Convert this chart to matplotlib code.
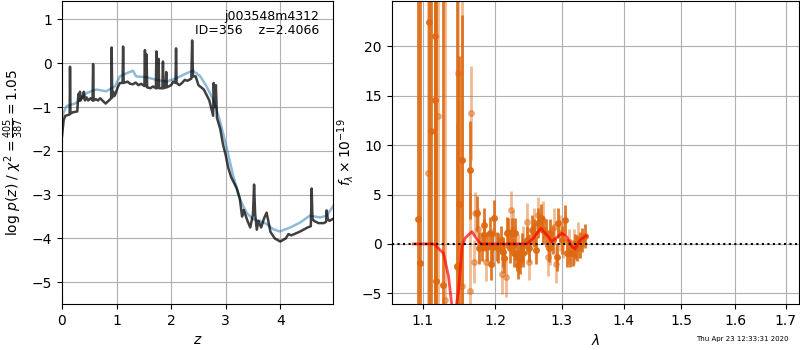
import matplotlib
matplotlib.use("Agg")
import matplotlib.pyplot as plt
from matplotlib.ticker import FixedLocator, FixedFormatter, NullLocator

# ---------------- left panel: p(z) ----------------
z_fit = [0.0, 0.02, 0.08, 0.26, 0.45, 0.63, 0.81, 0.97, 1.06, 1.18, 1.30, 1.36, 1.55,
         1.73, 1.91, 2.10, 2.28, 2.40, 2.53, 2.65, 2.77, 2.89, 3.01, 3.14, 3.26, 3.38,
         3.50, 3.63, 3.75, 3.87, 3.99, 4.18, 4.36, 4.54, 4.73, 4.85, 4.97]
logp_fit = [-1.25, -1.15, -0.98, -0.91, -0.68, -0.60, -0.64, -0.53, -0.30, -0.23, -0.17,
            -0.30, -0.32, -0.38, -0.42, -0.34, -0.23, -0.17, -0.29, -0.53, -0.83, -1.29,
            -1.89, -2.58, -3.10, -3.41, -3.56, -3.60, -3.67, -3.79, -3.84, -3.75, -3.64,
            -3.48, -3.52, -3.48, -3.26]

z_pz = [0.0, 0.03, 0.06, 0.14, 0.147, 0.155, 0.20, 0.28, 0.30, 0.32, 0.33, 0.34, 0.36,
        0.38, 0.40, 0.42, 0.45, 0.48, 0.52, 0.56, 0.57, 0.58, 0.62, 0.66, 0.70, 0.74,
        0.80, 0.86, 0.90, 0.91, 0.92, 0.94, 0.96, 0.98, 1.02, 1.06, 1.11, 1.12, 1.13,
        1.20, 1.25, 1.30, 1.35, 1.40, 1.45, 1.51, 1.52, 1.53, 1.545, 1.55, 1.56, 1.62,
        1.67, 1.72, 1.73, 1.74, 1.76, 1.77, 1.78, 1.84, 1.85, 1.86, 1.90, 1.91, 1.92,
        2.00, 2.04, 2.08, 2.09, 2.10, 2.15, 2.20, 2.25, 2.30, 2.37, 2.385, 2.40, 2.45,
        2.50, 2.60, 2.70, 2.77, 2.78, 2.80, 2.82, 2.84, 2.90, 2.95, 3.00, 3.05, 3.10,
        3.20, 3.26, 3.30, 3.33, 3.40, 3.45, 3.50, 3.52, 3.54, 3.57, 3.60, 3.65, 3.70,
        3.75, 3.82, 3.90, 4.00, 4.10, 4.15, 4.20, 4.35, 4.50, 4.56, 4.575, 4.59, 4.62,
        4.70, 4.80, 4.84, 4.85, 4.87, 4.90, 4.97]
logp_pz = [-1.67, -1.30, -1.20, -1.17, -0.08, -1.15, -1.12, -1.10, -0.70, -0.85, -0.65,
           -0.85, -0.75, -0.80, -0.65, -0.85, -0.78, -0.85, -0.80, -0.85, -0.02, -0.85,
           -0.82, -0.85, -0.80, -0.85, -0.92, -0.85, -0.80, 0.36, -0.78, -0.65, -0.75,
           -0.70, -0.55, -0.45, -0.45, 0.38, -0.45, -0.42, -0.47, -0.48, -0.44, -0.50,
           -0.47, -0.52, 0.30, -0.52, -0.52, 0.20, -0.55, -0.57, -0.53, -0.57, 0.27,
           -0.57, -0.55, 0.10, -0.57, -0.57, 0.04, -0.57, -0.55, -0.20, -0.55, -0.50,
           -0.42, -0.45, 0.34, -0.45, -0.50, -0.45, -0.38, -0.40, -0.35, 0.52, -0.30,
           -0.30, -0.50, -0.60, -0.85, -1.20, -0.45, -1.00, -0.50, -1.25, -1.50, -1.85,
           -2.10, -2.40, -2.60, -2.85, -3.10, -3.50, -3.35, -3.60, -3.75, -3.45, -2.77,
           -3.45, -3.80, -3.60, -3.75, -3.55, -3.41, -3.85, -4.00, -4.07, -4.00, -3.90,
           -3.93, -3.85, -3.75, -3.72, -2.86, -3.55, -3.60, -3.65, -3.65, -3.62, -3.36,
           -3.55, -3.60, -3.55]

obj_name = "j003548m4312"
obj_id = 356
z_best = 2.4066
chi2_num, chi2_den, chi2_val = 405, 387, 1.05

# ---------------- right panel: spectrum ----------------
wave_a = [1.0934, 1.0960, 1.1079, 1.1115, 1.1159, 1.1168, 1.1182, 1.1271, 1.1466,
          1.1485, 1.1526, 1.1637,
          1.1740, 1.1772, 1.1811, 1.1834, 1.1843, 1.1881, 1.1929, 1.1951, 1.1987, 1.1946,
          1.2025, 1.2047, 1.2087, 1.2111, 1.2129, 1.2169, 1.2193, 1.2217, 1.2241, 1.2267,
          1.2289, 1.2316, 1.2340, 1.2364, 1.2388, 1.2414, 1.2464, 1.2503, 1.2540, 1.2565,
          1.2605, 1.2640, 1.2675, 1.2716, 1.2757, 1.2793, 1.2817, 1.2858, 1.2920, 1.2946,
          1.2997, 1.3049, 1.3086, 1.3127, 1.3169, 1.3206, 1.3233, 1.3286, 1.3323, 1.3366]
flux_a = [2.5, -1.95, 22.5, 11.45, 21.1, 14.6, -3.75, -4.2, -2.2, 4.05, 8.5, 7.5,
          3.1, -0.44, -0.27, 1.9, 0.9, -0.27, 1.08, -0.27, 2.6, -2.06,
          -0.27, -0.44, 0.4, -0.84, -1.45, 1.15, 1.25, -0.44, 1.08, -0.95,
          1.08, -1.3, -2.1, -1.6, -0.27, -0.95, 0.4, -0.44, 1.4, 1.08,
          -0.6, 2.1, 2.6, 1.4, 1.08, -0.44, 1.08, 0.4, -1.3, 2.1,
          0.4, 2.4, -0.95, -0.95, -0.95, -0.27, -0.44, -0.1, 0.4, 0.8]
err_a = [40, 40, 40, 40, 40, 40, 40, 40, 30, 15, 14.7, 5.0,
         1.8, 1.6, 1.5, 1.7, 1.6, 1.5, 1.6, 1.5, 1.8, 1.6,
         1.5, 1.5, 1.4, 1.5, 1.5, 1.6, 1.4, 1.5, 1.5, 1.4,
         1.5, 1.4, 1.5, 1.4, 1.4, 1.4, 1.4, 1.4, 1.5, 1.4,
         1.4, 1.5, 1.4, 1.4, 1.4, 1.4, 1.4, 1.4, 1.4, 1.5,
         1.4, 1.5, 1.4, 1.4, 1.3, 1.3, 1.3, 1.3, 1.2, 1.2]

wave_b = [1.1071, 1.1199, 1.1304, 1.1461, 1.1471, 1.1532, 1.1645, 1.1651,
          1.1703, 1.1716, 1.1759, 1.1871, 1.1962, 1.2097, 1.2155, 1.2233, 1.2258, 1.2340,
          1.2403, 1.2464, 1.2503, 1.2575, 1.2640, 1.2716, 1.2778, 1.2817, 1.2880, 1.2911,
          1.2972, 1.3023, 1.3117, 1.3195, 1.3259]
flux_b = [7.2, 13.0, -5.7, -2.3, 17.3, -4.3, -4.8, 13.3,
          -1.8, 3.1, 1.5, -1.8, -0.34, -3.0, -3.4, 3.4, 1.4, -0.95,
          -0.1, 2.2, -1.8, 1.75, 2.9, 2.4, -1.3, -0.27, 1.75, -2.06,
          1.08, 0.4, -0.27, -0.27, 0.4]
err_b = [40, 40, 40, 14.5, 15, 40, 10, 4.75,
         2.2, 2.2, 2.1, 2.0, 2.0, 2.1, 2.0, 2.0, 2.0, 2.0,
         1.9, 1.9, 1.9, 1.9, 1.9, 1.9, 1.9, 1.9, 1.9, 1.9,
         1.8, 1.8, 1.8, 1.8, 1.8]

wave_m = [1.088, 1.1146, 1.1280, 1.1348, 1.1420, 1.1485, 1.1508, 1.1532, 1.1577,
          1.1670, 1.1763, 1.1810, 1.2466, 1.2565, 1.2675, 1.2767, 1.2844, 1.2998,
          1.3077, 1.3155, 1.3208, 1.3287, 1.3380]
flux_m = [0.0, 0.0, -0.95, -3.3, -8.0, -4.7, -2.6, -0.3, 0.6,
          1.25, 0.23, 0.0, 0.0, 0.6, 1.6, 0.9, 0.23, 1.08,
          0.7, -0.27, -0.5, 0.4, 0.8]

wave_ticks = [1.1, 1.2, 1.3, 1.4, 1.5, 1.6, 1.7]
timestamp = "Thu Apr 23 12:33:31 2020"

fig = plt.figure(figsize=(8, 3.5), dpi=100)
ax1 = fig.add_axes([0.0775, 0.131, 0.339, 0.866])
ax2 = fig.add_axes([0.4896, 0.131, 0.5095, 0.866])

ax1.plot(z_fit, logp_fit, color='#1f77b4', alpha=0.5, lw=1.8)
ax1.plot(z_pz, logp_pz, color='k', alpha=0.75, lw=1.8)
ax1.set_xlim(0, 4.97)
ax1.set_ylim(-5.5, 1.42)
ax1.set_xticks([0, 1, 2, 3, 4])
ax1.set_yticks([-5, -4, -3, -2, -1, 0, 1])
ax1.grid(True)
ax1.set_xlabel(r'$z$')
ax1.set_ylabel(r'log $p(z)$ / $\chi^2=\frac{%d}{%d}=%.2f$' % (chi2_num, chi2_den, chi2_val))
ax1.text(0.95, 0.97, '%s\nID=%d    z=%.4f' % (obj_name, obj_id, z_best),
         transform=ax1.transAxes, ha='right', va='top', fontsize=9, linespacing=1.1)

orange = '#dd6a12'
ax2.errorbar(wave_b, flux_b, yerr=err_b, marker='o', ms=4, linestyle='none',
             color=orange, alpha=0.45, elinewidth=2, capsize=0)
ax2.errorbar(wave_a, flux_a, yerr=err_a, marker='o', ms=4, linestyle='none',
             color=orange, alpha=0.9, elinewidth=2, capsize=0)
ax2.plot(wave_m, flux_m, color='r', alpha=0.7, lw=2, zorder=5)
ax2.axhline(0, color='k', linestyle=':', lw=1.5, zorder=6)
ax2.set_xscale('log')
ax2.set_xlim(1.06, 1.728)
ax2.set_ylim(-6.1, 24.6)
ax2.xaxis.set_major_locator(FixedLocator(wave_ticks))
ax2.xaxis.set_major_formatter(FixedFormatter(['%.1f' % w for w in wave_ticks]))
ax2.xaxis.set_minor_locator(NullLocator())
ax2.set_yticks([-5, 0, 5, 10, 15, 20])
ax2.grid(True)
ax2.set_xlabel(r'$\lambda$')
ax2.set_ylabel(r'$f_\lambda\times10^{-19}$')

fig.text(0.928, 0.03, timestamp, ha='center', va='center', fontsize=5)

fig.savefig('out.png', dpi=100)
